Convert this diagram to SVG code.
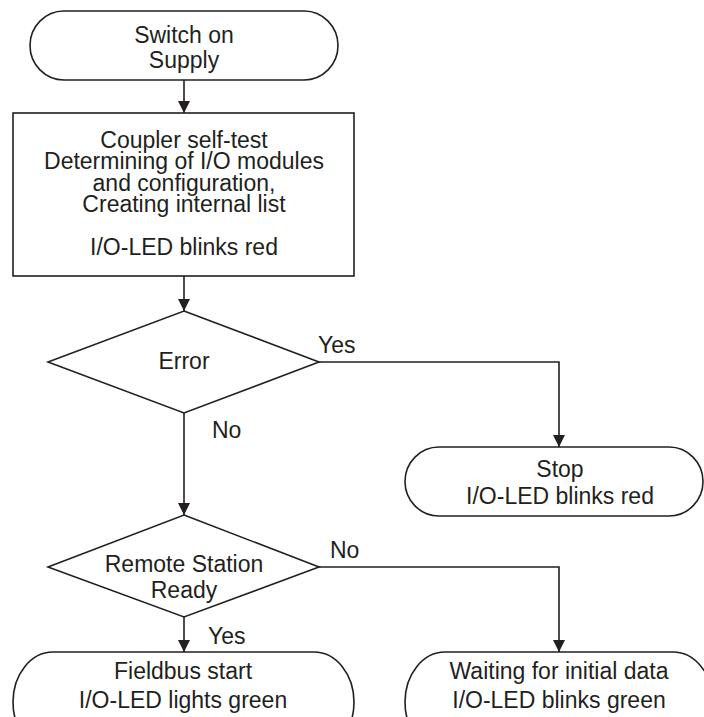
<svg xmlns="http://www.w3.org/2000/svg" width="704" height="717" viewBox="0 0 704 717">
<style>
  .shape { fill: #ffffff; stroke: #231f20; stroke-width: 1.6; }
  .conn { fill: none; stroke: #231f20; stroke-width: 1.6; }
  text { font-family: "Liberation Sans", Arial, sans-serif; font-size: 23px; fill: #231f20; }
  .c { text-anchor: middle; }
</style>
<defs>
  <marker id="arr" markerUnits="userSpaceOnUse" markerWidth="14" markerHeight="14" viewBox="0 0 14 14" refX="12" refY="7" orient="auto">
    <path d="M0,1 L12,7 L0,13 Z" fill="#231f20"/>
  </marker>
</defs>
<rect width="704" height="717" fill="#ffffff"/>
<g id="connectors">
  <line class="conn" x1="184" y1="80" x2="184" y2="113" marker-end="url(#arr)"/>
  <line class="conn" x1="184" y1="276" x2="184" y2="311" marker-end="url(#arr)"/>
  <polyline class="conn" points="319,362 559,362 559,447" marker-end="url(#arr)"/>
  <line class="conn" x1="184" y1="413" x2="184" y2="515" marker-end="url(#arr)"/>
  <polyline class="conn" points="319,567 559,567 559,652" marker-end="url(#arr)"/>
  <line class="conn" x1="184" y1="617" x2="184" y2="652" marker-end="url(#arr)"/>
  <text x="318" y="353">Yes</text>
  <text x="212" y="438">No</text>
  <text x="330" y="558">No</text>
  <text x="208" y="644">Yes</text>
</g>
<g id="start">
  <rect class="shape" x="30" y="11" width="308" height="69" rx="34" ry="34.5"/>
  <text class="c" x="184" y="43">Switch on</text>
  <text class="c" x="184" y="68">Supply</text>
</g>
<g id="selftest">
  <rect class="shape" x="13" y="113" width="341" height="163"/>
  <text class="c" x="184" y="148">Coupler self-test</text>
  <text class="c" x="184" y="169">Determining of I/O modules</text>
  <text class="c" x="184" y="191">and configuration,</text>
  <text class="c" x="184" y="212">Creating internal list</text>
  <text class="c" x="184" y="255">I/O-LED blinks red</text>
</g>
<g id="error">
  <polygon class="shape" points="184,311 319,362 184,413 48,362"/>
  <text class="c" x="184" y="369">Error</text>
</g>
<g id="stop">
  <rect class="shape" x="405" y="447" width="298" height="69" rx="34" ry="34.5"/>
  <text class="c" x="560" y="477">Stop</text>
  <text class="c" x="560" y="504">I/O-LED blinks red</text>
</g>
<g id="remote">
  <polygon class="shape" points="184,515 319,567 184,617 48,567"/>
  <text class="c" x="184" y="572">Remote Station</text>
  <text class="c" x="184" y="598">Ready</text>
</g>
<g id="fieldbus">
  <rect class="shape" x="13" y="652" width="341" height="100" rx="40" ry="50"/>
  <text class="c" x="183" y="679">Fieldbus start</text>
  <text class="c" x="183" y="708">I/O-LED lights green</text>
</g>
<g id="waiting">
  <rect class="shape" x="405" y="652" width="308" height="100" rx="40" ry="50"/>
  <text class="c" x="559" y="679">Waiting for initial data</text>
  <text class="c" x="559" y="708">I/O-LED blinks green</text>
</g>
</svg>
